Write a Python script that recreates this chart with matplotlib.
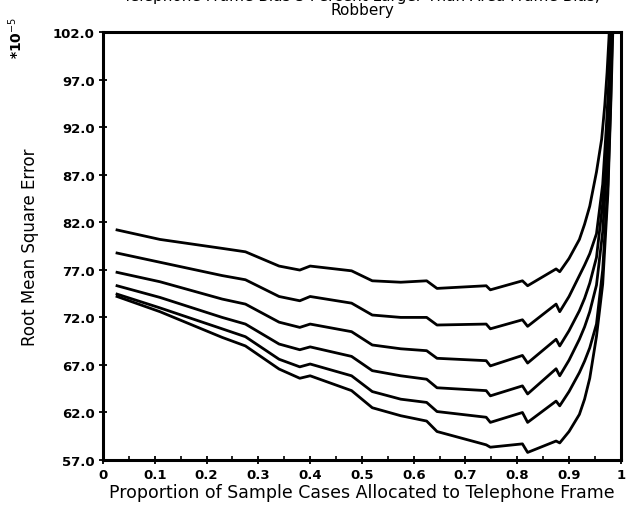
import matplotlib
matplotlib.use('Agg')
import matplotlib.pyplot as plt
from matplotlib.ticker import MultipleLocator, FormatStrFormatter

# proportion allocated to telephone frame, shared by the first part of every curve
x_base = [0.027, 0.11, 0.23, 0.275, 0.34, 0.38, 0.40, 0.48, 0.52, 0.575,
          0.625, 0.645, 0.74, 0.748, 0.81, 0.82, 0.875, 0.882, 0.90, 0.92]

rmse_1 = [81.2, 80.2, 79.26, 78.9, 77.4, 76.98, 77.4, 76.9, 75.85, 75.7,
          75.85, 75.05, 75.33, 74.9, 75.85, 75.33, 77.1, 76.8, 78.2, 80.2]
rmse_2 = [78.77, 77.8, 76.4, 75.96, 74.2, 73.75, 74.2, 73.5, 72.25, 72.0,
          72.0, 71.2, 71.3, 70.8, 71.75, 71.06, 73.4, 72.6, 74.2, 76.4]
rmse_3 = [76.74, 75.75, 73.93, 73.4, 71.5, 70.95, 71.3, 70.5, 69.1, 68.7,
          68.5, 67.7, 67.45, 66.9, 68.0, 67.2, 69.7, 69.0, 70.6, 72.7]
rmse_4 = [75.33, 74.1, 72.0, 71.3, 69.2, 68.6, 68.9, 67.9, 66.4, 65.86,
          65.5, 64.6, 64.3, 63.75, 64.8, 63.95, 66.6, 65.86, 67.5, 69.7]
rmse_5 = [74.45, 73.0, 70.8, 69.97, 67.6, 66.8, 67.1, 65.86, 64.2, 63.4,
          63.06, 62.1, 61.5, 60.96, 62.0, 60.96, 63.2, 62.7, 64.2, 66.2]
rmse_6 = [74.2, 72.6, 69.9, 69.0, 66.57, 65.6, 65.86, 64.3, 62.5, 61.66,
          61.1, 60.0, 58.6, 58.35, 58.7, 57.8, 59.0, 58.8, 60.0, 61.8]

# steep tails near proportion 1
tail_x_1 = [0.93, 0.94, 0.953, 0.963, 0.969, 0.9735, 0.977, 0.979]
tail_y_1 = [81.8, 83.7, 87.3, 90.75, 94.3, 97.8, 101.3, 103.5]
tail_x_2 = [0.93, 0.94, 0.953, 0.965, 0.972, 0.977, 0.981]
tail_y_2 = [77.5, 78.7, 80.8, 86.0, 92.0, 97.0, 103.0]
tail_x_3 = [0.93, 0.94, 0.953, 0.965, 0.973, 0.978, 0.982]
tail_y_3 = [74.0, 75.6, 78.3, 84.0, 91.0, 97.0, 103.0]
tail_x_4 = [0.93, 0.94, 0.953, 0.965, 0.974, 0.979, 0.983]
tail_y_4 = [71.0, 72.6, 75.4, 81.0, 89.0, 96.0, 103.0]
tail_x_5 = [0.93, 0.94, 0.953, 0.965, 0.975, 0.98, 0.984]
tail_y_5 = [67.4, 68.8, 71.3, 77.0, 86.0, 94.0, 103.0]
tail_x_6 = [0.93, 0.94, 0.953, 0.965, 0.975, 0.981, 0.985]
tail_y_6 = [63.4, 65.6, 70.0, 75.5, 85.0, 95.0, 103.0]

series = [
    (rmse_1, tail_x_1, tail_y_1),
    (rmse_2, tail_x_2, tail_y_2),
    (rmse_3, tail_x_3, tail_y_3),
    (rmse_4, tail_x_4, tail_y_4),
    (rmse_5, tail_x_5, tail_y_5),
    (rmse_6, tail_x_6, tail_y_6),
]

x_ticks = [0, 0.1, 0.2, 0.3, 0.4, 0.5, 0.6, 0.7, 0.8, 0.9, 1.0]
x_tick_labels = ['0', '0.1', '0.2', '0.3', '0.4', '0.5', '0.6',
                 '0.7', '0.8', '0.9', '1']
y_ticks = [57, 62, 67, 72, 77, 82, 87, 92, 97, 102]

plt.rcParams['font.family'] = ['DejaVu Sans']

fig = plt.figure(figsize=(6.44, 5.10), dpi=100)
ax = fig.add_axes((0.160, 0.096, 0.804, 0.839))

for values, tx, ty in series:
    ax.plot(x_base + tx, values + ty, color='black', linewidth=2.0,
            solid_joinstyle='round')

ax.set_xlim(0, 1)
ax.set_ylim(57, 102)

ax.set_xticks(x_ticks)
ax.set_xticklabels(x_tick_labels)
ax.xaxis.set_minor_locator(MultipleLocator(0.05))
ax.set_yticks(y_ticks)
ax.yaxis.set_major_formatter(FormatStrFormatter('%.1f'))

ax.tick_params(axis='both', which='major', direction='inout', length=6,
               width=1.3, labelsize=9.5, pad=3)
ax.tick_params(axis='x', which='minor', direction='in', length=3, width=1.2)
for lab in ax.get_xticklabels() + ax.get_yticklabels():
    lab.set_fontweight('bold')

for spine in ax.spines.values():
    spine.set_linewidth(2.2)

ax.set_xlabel('Proportion of Sample Cases Allocated to Telephone Frame',
              fontsize=12.5, labelpad=1)
ax.set_ylabel('Root Mean Square Error', fontsize=12, labelpad=10)

# first title line sits partly above the page edge, as in the scan
fig.text(0.562, 0.979, 'Robbery', ha='center', va='center', fontsize=11)
fig.text(0.562, 1.006, 'Telephone Frame Bias 5 Percent Larger Than Area Frame Bias;',
         ha='center', va='center', fontsize=11)
fig.text(0.024, 0.925, r'*10$^{-5}$', rotation=90, ha='center', va='center',
         fontsize=10, fontweight='bold')

fig.savefig('out.png', dpi=100)
